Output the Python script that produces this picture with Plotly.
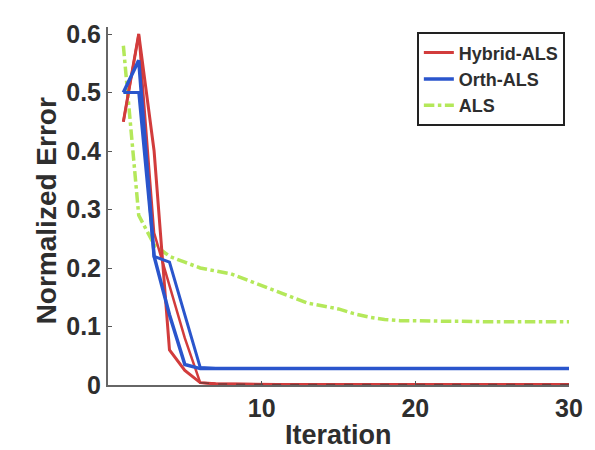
import plotly.graph_objects as go

iterations = list(range(1, 31))

hybrid_a = [0.45, 0.60, 0.40, 0.06, 0.025, 0.004, 0.002, 0.0015, 0.001, 0.001,
            0.001, 0.001, 0.001, 0.001, 0.001, 0.001, 0.001, 0.001, 0.001, 0.001,
            0.001, 0.001, 0.001, 0.001, 0.001, 0.001, 0.001, 0.001, 0.001, 0.001]
hybrid_b = [0.45, 0.60, 0.26, 0.17, 0.08, 0.004, 0.002, 0.0015, 0.001, 0.001,
            0.001, 0.001, 0.001, 0.001, 0.001, 0.001, 0.001, 0.001, 0.001, 0.001,
            0.001, 0.001, 0.001, 0.001, 0.001, 0.001, 0.001, 0.001, 0.001, 0.001]
orth_a = [0.50, 0.555, 0.22, 0.12, 0.035, 0.028, 0.028, 0.028, 0.028, 0.028,
          0.028, 0.028, 0.028, 0.028, 0.028, 0.028, 0.028, 0.028, 0.028, 0.028,
          0.028, 0.028, 0.028, 0.028, 0.028, 0.028, 0.028, 0.028, 0.028, 0.028]
orth_b = [0.50, 0.50, 0.22, 0.21, 0.12, 0.03, 0.028, 0.028, 0.028, 0.028,
          0.028, 0.028, 0.028, 0.028, 0.028, 0.028, 0.028, 0.028, 0.028, 0.028,
          0.028, 0.028, 0.028, 0.028, 0.028, 0.028, 0.028, 0.028, 0.028, 0.028]
als = [0.58, 0.29, 0.24, 0.22, 0.21, 0.20, 0.195, 0.19, 0.18, 0.17,
       0.16, 0.15, 0.14, 0.135, 0.13, 0.122, 0.116, 0.112, 0.11, 0.11,
       0.109, 0.109, 0.109, 0.108, 0.108, 0.108, 0.108, 0.108, 0.108, 0.108]

x_ticks = [10, 20, 30]
y_ticks = [0, 0.1, 0.2, 0.3, 0.4, 0.5, 0.6]
y_tick_labels = ["0", "0.1", "0.2", "0.3", "0.4", "0.5", "0.6"]

RED = "#d23c3c"
BLUE = "#2a55cc"
GREEN = "#b4e85a"
FONT = "Liberation Sans"
TXT = "#2e2e2e"

fig = go.Figure()
fig.add_trace(go.Scatter(x=iterations, y=als, mode="lines", name="ALS",
                         line=dict(color=GREEN, width=3.5, dash="dashdot"),
                         legendrank=3))
fig.add_trace(go.Scatter(x=iterations, y=hybrid_b, mode="lines", showlegend=False,
                         line=dict(color=RED, width=2.5)))
fig.add_trace(go.Scatter(x=iterations, y=hybrid_a, mode="lines", name="Hybrid-ALS",
                         line=dict(color=RED, width=3), legendrank=1))
fig.add_trace(go.Scatter(x=iterations[5:], y=hybrid_a[5:], mode="lines", showlegend=False,
                         line=dict(color="#7a3a3a", width=1.5, dash="dash")))
fig.add_trace(go.Scatter(x=iterations, y=orth_b, mode="lines", showlegend=False,
                         line=dict(color=BLUE, width=3)))
fig.add_trace(go.Scatter(x=iterations, y=orth_a, mode="lines", name="Orth-ALS",
                         line=dict(color=BLUE, width=3.5), legendrank=2))

axis_common = dict(showgrid=False, zeroline=False, showline=True, linecolor="#666666",
                   linewidth=2, ticks="inside", ticklen=4, tickcolor="#555555",
                   tickfont=dict(family=FONT, size=25, color=TXT, weight="bold"))

# page body adds an 8px offset; plot area spans page x 108..576, y 20..385
fig.update_layout(
    width=587, height=442,
    margin=dict(l=100, r=19, t=12, b=65),
    paper_bgcolor="white", plot_bgcolor="white",
    xaxis=dict(range=[0, 30], tickvals=x_ticks, **axis_common),
    yaxis=dict(range=[0, 0.612], tickvals=y_ticks, ticktext=y_tick_labels, **axis_common),
    legend=dict(x=0.991, y=0.985, xanchor="right", yanchor="top",
                bordercolor="#222222", borderwidth=2, bgcolor="white",
                font=dict(family=FONT, size=18, color=TXT, weight="bold"),
                tracegroupgap=0, itemwidth=30),
    annotations=[
        dict(text="Iteration", xref="paper", yref="paper", x=(342 - 108) / 468, y=-(436 - 385) / 365,
             xanchor="center", yanchor="middle", showarrow=False,
             font=dict(family=FONT, size=27, color=TXT, weight="bold")),
        dict(text="Normalized Error", xref="paper", yref="paper", x=(45 - 108) / 468, y=(385 - 207) / 365,
             xanchor="center", yanchor="middle", showarrow=False, textangle=-90,
             font=dict(family=FONT, size=28, color=TXT, weight="bold")),
    ],
)

fig.write_html("out.html")
